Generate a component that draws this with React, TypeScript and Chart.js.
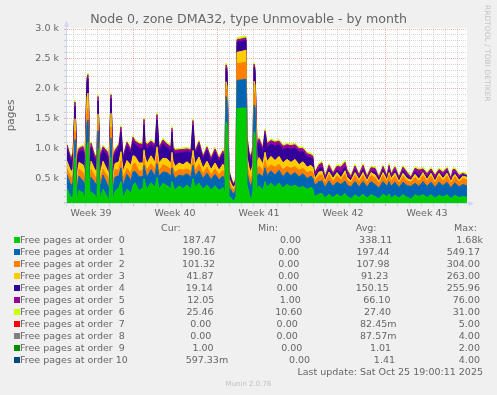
import React, { useEffect, useRef } from "react";
import { Chart, registerables } from "chart.js";

Chart.register(...registerables);

// x = 2-hour slot since the start of the month view (400 slots, one per pixel)
const SLOTS = [
  0, 4, 6, 8, 10, 12, 16, 18, 20, 21,
  23, 24, 28, 30, 31, 33, 36, 40, 42, 44,
  46, 48, 52, 54, 56, 60, 64, 66, 68, 72,
  76, 77, 78, 80, 84, 88, 90, 92, 96, 100,
  104, 105, 106, 108, 112, 116, 120, 124, 126, 128,
  132, 136, 140, 144, 148, 152, 156, 158, 159, 160,
  162, 164, 166, 168, 169, 170, 175, 179, 180, 182,
  184, 186, 187, 188, 190, 192, 196, 198, 200, 204,
  208, 212, 216, 220, 224, 228, 232, 236, 240, 244,
  246, 247, 248, 252, 255, 258, 262, 266, 270, 274,
  278, 280, 284, 288, 292, 296, 300, 304, 308, 312,
  316, 320, 322, 324, 328, 332, 336, 340, 344, 348,
  352, 356, 360, 364, 368, 372, 376, 380, 384, 386,
  388, 392, 396, 400,
];

const ORDER0 = [
  330, 180, 200, 850, 120, 300, 260, 150, 1050, 1100,
  140, 280, 220, 160, 1000, 150, 320, 200, 140, 850,
  130, 280, 350, 450, 180, 320, 250, 380, 430, 300,
  340, 500, 430, 320, 430, 350, 520, 320, 420, 380,
  330, 450, 390, 300, 380, 330, 390, 320, 500, 360,
  420, 320, 390, 310, 380, 300, 350, 250, 1450, 1400,
  200, 180, 120, 150, 200, 1670, 1675, 1680, 400, 250,
  120, 300, 1280, 1250, 300, 380, 300, 450, 350, 420,
  360, 420, 340, 400, 360, 390, 340, 370, 320, 350,
  320, 230, 200, 240, 250, 170, 240, 180, 240, 190,
  250, 200, 160, 230, 180, 240, 170, 230, 200, 160,
  240, 190, 240, 170, 220, 170, 230, 190, 150, 230,
  200, 230, 180, 230, 170, 220, 190, 230, 160, 200,
  220, 180, 200, 187,
];

const ORDER1 = [
  230, 200, 230, 300, 180, 240, 200, 230, 380, 380,
  170, 240, 210, 230, 300, 180, 240, 210, 190, 330,
  180, 240, 200, 230, 200, 250, 210, 230, 190, 230,
  190, 220, 210, 200, 220, 190, 230, 220, 190, 220,
  210, 230, 190, 200, 180, 210, 190, 200, 220, 180,
  210, 180, 200, 170, 190, 180, 190, 190, 420, 400,
  150, 130, 120, 130, 150, 470, 475, 480, 200, 200,
  230, 220, 450, 440, 220, 200, 230, 230, 200, 210,
  200, 220, 190, 210, 190, 210, 190, 210, 180, 190,
  180, 200, 190, 210, 210, 180, 220, 190, 200, 210,
  210, 190, 200, 220, 180, 210, 190, 220, 200, 180,
  210, 180, 210, 200, 220, 180, 210, 190, 220, 190,
  170, 220, 190, 210, 180, 220, 190, 210, 180, 190,
  210, 180, 200, 190,
];

const ORDER2 = [
  100, 130, 110, 150, 90, 120, 140, 100, 190, 200,
  90, 130, 100, 120, 130, 120, 90, 140, 110, 180,
  100, 130, 90, 120, 130, 100, 120, 120, 140, 90,
  120, 120, 90, 120, 100, 120, 130, 90, 120, 100,
  110, 120, 90, 100, 90, 100, 80, 100, 120, 90,
  110, 80, 100, 80, 90, 80, 100, 90, 130, 130,
  80, 60, 70, 60, 70, 280, 282, 285, 120, 110,
  120, 110, 200, 190, 110, 130, 100, 120, 120, 100,
  130, 100, 120, 90, 120, 100, 110, 90, 100, 80,
  90, 80, 70, 100, 100, 70, 100, 80, 100, 80,
  110, 80, 70, 100, 80, 100, 70, 100, 110, 80,
  100, 70, 100, 90, 100, 70, 100, 80, 70, 100,
  80, 100, 80, 100, 70, 100, 80, 100, 70, 90,
  100, 80, 100, 101,
];

const ORDER3 = [
  130, 100, 120, 200, 140, 110, 130, 120, 240, 250,
  100, 140, 110, 130, 150, 110, 140, 100, 130, 230,
  120, 100, 140, 150, 110, 130, 140, 150, 110, 140,
  110, 140, 130, 110, 130, 110, 150, 130, 110, 130,
  100, 140, 120, 100, 110, 90, 120, 100, 130, 110,
  120, 90, 100, 90, 100, 80, 100, 100, 120, 120,
  70, 50, 40, 40, 50, 190, 195, 200, 150, 120,
  130, 120, 200, 190, 130, 140, 110, 140, 110, 140,
  110, 130, 110, 120, 100, 120, 90, 110, 90, 100,
  90, 50, 40, 60, 60, 30, 50, 50, 60, 30,
  60, 50, 30, 50, 40, 50, 30, 50, 50, 30,
  50, 30, 50, 40, 50, 30, 50, 40, 30, 50,
  40, 50, 30, 50, 30, 50, 40, 50, 30, 50,
  40, 30, 40, 42,
];

const ORDER4 = [
  210, 170, 200, 210, 230, 180, 240, 200, 250, 240,
  180, 230, 170, 200, 220, 230, 190, 240, 180, 250,
  220, 170, 230, 330, 190, 240, 200, 240, 200, 250,
  240, 420, 200, 250, 190, 230, 450, 200, 240, 190,
  220, 330, 180, 210, 170, 200, 170, 200, 420, 160,
  200, 150, 180, 140, 180, 150, 170, 160, 220, 240,
  90, 60, 40, 40, 60, 170, 168, 165, 250, 200,
  200, 220, 230, 220, 230, 250, 210, 300, 240, 210,
  240, 200, 220, 190, 220, 190, 210, 170, 170, 130,
  140, 50, 40, 60, 70, 30, 50, 40, 50, 80,
  60, 50, 30, 50, 30, 50, 30, 20, 50, 30,
  40, 30, 50, 20, 40, 30, 40, 50, 20, 40,
  60, 20, 40, 30, 40, 20, 40, 30, 20, 40,
  30, 40, 25, 19,
];

const ORDER5 = [
  60, 50, 60, 70, 70, 50, 65, 55, 70, 65,
  50, 70, 55, 60, 70, 70, 50, 65, 55, 60,
  70, 50, 60, 80, 50, 65, 60, 70, 55, 70,
  70, 90, 55, 65, 55, 65, 90, 55, 65, 55,
  60, 70, 50, 60, 50, 55, 45, 55, 80, 45,
  55, 45, 55, 45, 55, 40, 50, 50, 60, 60,
  40, 30, 25, 25, 30, 40, 40, 40, 80, 60,
  60, 60, 50, 50, 60, 65, 55, 60, 65, 55,
  65, 55, 60, 55, 60, 55, 60, 50, 55, 45,
  50, 50, 60, 60, 70, 40, 60, 50, 55, 100,
  80, 70, 40, 60, 50, 70, 40, 60, 60, 40,
  60, 40, 70, 50, 60, 40, 60, 50, 30, 60,
  90, 40, 60, 40, 60, 40, 60, 50, 40, 80,
  50, 40, 20, 12,
];

const ORDER6 = [
  28, 27, 27, 30, 27, 27, 27, 27, 30, 30,
  27, 27, 27, 27, 30, 27, 27, 27, 27, 25,
  27, 27, 27, 30, 27, 27, 28, 30, 27, 27,
  27, 30, 27, 27, 27, 27, 30, 27, 27, 27,
  27, 30, 27, 27, 27, 27, 27, 27, 30, 27,
  28, 26, 26, 26, 26, 26, 26, 26, 30, 30,
  25, 22, 20, 20, 22, 33, 34, 34, 30, 27,
  27, 27, 25, 25, 27, 27, 27, 30, 27, 28,
  27, 27, 27, 27, 27, 27, 27, 27, 26, 26,
  26, 28, 27, 28, 30, 27, 27, 27, 30, 27,
  30, 28, 27, 27, 27, 27, 27, 27, 28, 27,
  27, 27, 30, 27, 27, 27, 27, 27, 26, 27,
  28, 27, 27, 27, 27, 27, 28, 27, 27, 30,
  27, 26, 25, 25,
];

const SERIES_LABELS = [
  "Free pages at order  0",
  "Free pages at order  1",
  "Free pages at order  2",
  "Free pages at order  3",
  "Free pages at order  4",
  "Free pages at order  5",
  "Free pages at order  6",
  "Free pages at order  7",
  "Free pages at order  8",
  "Free pages at order  9",
  "Free pages at order 10",
];
const SERIES_COLORS = [
  "#00CC00", "#0066B3", "#FF8000", "#FFCC00", "#330099", "#990099",
  "#CCFF00", "#FF0000", "#808080", "#008F00", "#00487D",
];
const CUR = ["187.47", "190.16", "101.32", "41.87", "19.14", "12.05", "25.46", "0.00", "0.00", "1.00", "597.33m"];
const MIN = ["0.00", "0.00", "0.00", "0.00", "0.00", "1.00", "10.60", "0.00", "0.00", "0.00", "0.00"];
const AVG = ["338.11", "197.44", "107.98", "91.23", "150.15", "66.10", "27.40", "82.45m", "87.57m", "1.01", "1.41"];
const MAX = ["1.68k", "549.17", "304.00", "263.00", "255.96", "76.00", "31.00", "5.00", "4.00", "2.00", "4.00"];

const WEEK_TICKS = [24, 108, 192, 276, 360];
const WEEK_LABELS = ["Week 39", "Week 40", "Week 41", "Week 42", "Week 43"];
const WEEK_BOUNDS = [66, 150, 234, 318];
const FIRST_DAY_LINE = 6;
const SLOTS_PER_DAY = 12;
const X_MAX = 400;
const Y_MIN = 91;
const Y_MAX = 3017;
const Y_STEP = 100;
const Y_LABEL_STEP = 500;

const TITLE = "Node 0, zone DMA32, type Unmovable - by month";
const FONT = "'DejaVu Sans', 'Liberation Sans', sans-serif";
const TEXT = "#666666";
const MINOR = "rgba(150,150,150,0.4)";
const MAJOR = "rgba(233,96,96,0.5)";
const AXIS = "#CFD6F8";
const NONE = "rgba(0,0,0,0)";

const fmt = (s: string) => {
  const m = s.match(/^(.*?)([km]?)$/)!;
  return m[1].padStart(6, " ") + (m[2] || " ");
};

const xTickValues: number[] = [];
for (let v = FIRST_DAY_LINE; v <= X_MAX; v += SLOTS_PER_DAY) xTickValues.push(v);
WEEK_TICKS.forEach((v) => xTickValues.push(v));
xTickValues.sort((a, b) => a - b);

const yTickValues: number[] = [];
for (let v = Y_STEP; v <= Y_MAX; v += Y_STEP) yTickValues.push(v);

const xGrid = (ctx: any) => {
  const v = ctx.tick ? ctx.tick.value : null;
  if (v == null) return NONE;
  if (WEEK_BOUNDS.includes(v)) return MAJOR;
  if ((v - FIRST_DAY_LINE) % SLOTS_PER_DAY === 0) return MINOR;
  return NONE;
};
const yGrid = (ctx: any) => {
  const v = ctx.tick ? ctx.tick.value : null;
  if (v == null) return NONE;
  return v % Y_LABEL_STEP === 0 ? MAJOR : MINOR;
};

const framePlugin = {
  id: "frame",
  beforeDraw(chart: any) {
    const { ctx, chartArea: a } = chart;
    ctx.save();
    ctx.fillStyle = "#ffffff";
    ctx.fillRect(a.left, a.top, a.right - a.left, a.bottom - a.top);
    ctx.restore();
  },
  afterDatasetsDraw(chart: any) {
    const { ctx, chartArea: a } = chart;
    ctx.save();
    ctx.strokeStyle = AXIS;
    ctx.fillStyle = AXIS;
    ctx.lineWidth = 1;
    const ax = a.left - 0.5;
    const ay = a.bottom + 0.5;
    ctx.beginPath();
    ctx.moveTo(ax, a.bottom + 3);
    ctx.lineTo(ax, a.top - 3);
    ctx.moveTo(a.left - 3, ay);
    ctx.lineTo(a.right + 3, ay);
    ctx.stroke();
    ctx.beginPath();
    ctx.moveTo(ax - 2.5, a.top - 1.5);
    ctx.lineTo(ax + 2.5, a.top - 1.5);
    ctx.lineTo(ax, a.top - 7);
    ctx.closePath();
    ctx.fill();
    ctx.beginPath();
    ctx.moveTo(a.right + 1.5, ay - 2.5);
    ctx.lineTo(a.right + 1.5, ay + 2.5);
    ctx.lineTo(a.right + 7, ay);
    ctx.closePath();
    ctx.fill();
    ctx.restore();
  },
};

export default function App() {
  const ref = useRef<HTMLCanvasElement>(null);

  useEffect(() => {
    const series = [ORDER0, ORDER1, ORDER2, ORDER3, ORDER4, ORDER5, ORDER6];
    const chart = new Chart(ref.current!, {
      type: "line",
      data: {
        datasets: series.map((arr, i) => ({
          label: SERIES_LABELS[i],
          data: arr.map((v, j) => ({ x: SLOTS[j], y: v })),
          backgroundColor: SERIES_COLORS[i],
          borderColor: SERIES_COLORS[i],
          borderWidth: 1,
          pointRadius: 0,
          tension: 0,
          fill: i === 0 ? "origin" : "-1",
        })),
      },
      options: {
        animation: false,
        responsive: false,
        events: [],
        layout: { padding: { left: 0, top: 28, right: 30, bottom: 7 } },
        plugins: { legend: { display: false }, tooltip: { enabled: false }, title: { display: false } },
        scales: {
          x: {
            type: "linear",
            min: 0,
            max: X_MAX,
            afterBuildTicks: (s: any) => {
              s.ticks = xTickValues.map((v) => ({ value: v }));
            },
            afterFit: (s: any) => {
              s.height = 20;
            },
            grid: { color: xGrid, tickColor: xGrid, tickLength: 3, lineWidth: 1, drawTicks: true },
            border: { display: false, dash: [1, 1] },
            ticks: {
              autoSkip: false,
              maxRotation: 0,
              minRotation: 0,
              padding: 2,
              color: TEXT,
              font: { family: FONT, size: 9.5 },
              callback: (v: any) => {
                const k = WEEK_TICKS.indexOf(Number(v));
                return k >= 0 ? WEEK_LABELS[k] : "";
              },
            },
          },
          y: {
            stacked: true,
            min: Y_MIN,
            max: Y_MAX,
            afterBuildTicks: (s: any) => {
              s.ticks = yTickValues.map((v) => ({ value: v }));
            },
            afterFit: (s: any) => {
              s.width = 67;
            },
            grid: { color: yGrid, tickColor: yGrid, tickLength: 3, lineWidth: 1, drawTicks: true },
            border: { display: false, dash: [1, 1] },
            ticks: {
              autoSkip: false,
              padding: 5,
              color: TEXT,
              font: { family: FONT, size: 9.5 },
              callback: (v: any) =>
                Number(v) % Y_LABEL_STEP === 0 ? (Number(v) / 1000).toFixed(1) + " k" : "",
            },
            title: {
              display: true,
              text: "pages",
              color: TEXT,
              font: { family: FONT, size: 10.5 },
              padding: { top: 5, bottom: 0 },
            },
          },
        },
      },
      plugins: [framePlugin],
    } as any);
    return () => chart.destroy();
  }, []);

  const rowBase = 234;
  const rowH = 12;

  return (
    <div
      style={{
        position: "absolute",
        left: 0,
        top: 0,
        width: 497,
        height: 395,
        background: "#F0F0F0",
        overflow: "hidden",
        fontFamily: FONT,
        color: TEXT,
      }}
    >
      <canvas
        ref={ref}
        width={497}
        height={230}
        style={{ position: "absolute", left: 0, top: 0, width: 497, height: 230 }}
      />
      <div
        style={{
          position: "absolute",
          left: 0,
          top: 11.4,
          width: 497,
          textAlign: "center",
          fontSize: 12.6,
          lineHeight: "15px",
          whiteSpace: "pre",
        }}
      >
        {TITLE}
      </div>
      <div
        style={{
          position: "absolute",
          left: 483,
          top: 5,
          writingMode: "vertical-rl",
          fontSize: 7.5,
          lineHeight: "9px",
          color: "#c4c4c4",
          whiteSpace: "pre",
        }}
      >
        RRDTOOL / TOBI OETIKER
      </div>
      {[
        ["Cur:", 161],
        ["Min:", 258],
        ["Avg:", 355.7],
        ["Max:", 454],
      ].map(([t, x]) => (
        <div
          key={t as string}
          style={{
            position: "absolute",
            left: x as number,
            top: rowBase - rowH,
            fontSize: 9.5,
            lineHeight: rowH + "px",
            whiteSpace: "pre",
          }}
        >
          {t}
        </div>
      ))}
      {SERIES_LABELS.map((label, i) => (
        <div
          key={label}
          style={{
            position: "absolute",
            left: 14,
            top: rowBase + i * rowH,
            width: 469,
            height: rowH,
            display: "flex",
            justifyContent: "space-between",
            fontSize: 9.5,
            lineHeight: rowH + "px",
            whiteSpace: "pre",
          }}
        >
          <span>
            <span
              style={{
                display: "inline-block",
                width: 6,
                height: 6,
                background: SERIES_COLORS[i],
                verticalAlign: "baseline",
              }}
            />
            {label + " "}
          </span>
          <span>{fmt(CUR[i])}</span>
          <span>{fmt(MIN[i])}</span>
          <span>{fmt(AVG[i])}</span>
          <span>{fmt(MAX[i])}</span>
        </div>
      ))}
      <div
        style={{
          position: "absolute",
          left: 14,
          top: rowBase + SERIES_LABELS.length * rowH,
          width: 469,
          textAlign: "right",
          fontSize: 9.5,
          lineHeight: rowH + "px",
          whiteSpace: "pre",
        }}
      >
        Last update: Sat Oct 25 19:00:11 2025
      </div>
      <div
        style={{
          position: "absolute",
          left: 0,
          top: 379.8,
          width: 497,
          textAlign: "center",
          fontSize: 7,
          lineHeight: "9px",
          color: "#c0c0c0",
          whiteSpace: "pre",
        }}
      >
        Munin 2.0.76
      </div>
    </div>
  );
}
